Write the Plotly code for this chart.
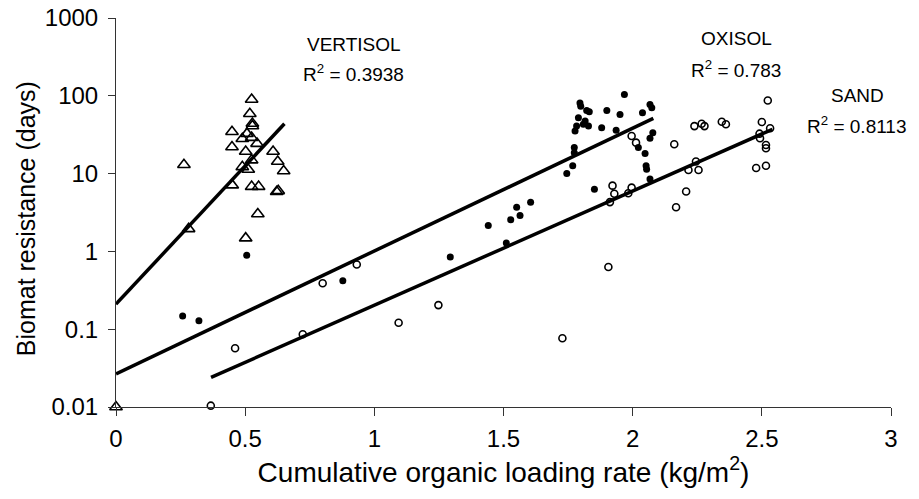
import plotly.graph_objects as go

# ---------------- data ----------------
vert_x = [0.525, 0.518, 0.528, 0.528, 0.449, 0.507, 0.489, 0.525, 0.546, 0.449,
          0.502, 0.608, 0.525, 0.626, 0.263, 0.489, 0.512, 0.649, 0.450, 0.525,
          0.552, 0.622, 0.628, 0.549, 0.502, 0.281, 0.0]
vert_y = [89.7, 58.7, 44, 41, 34.5, 32.6, 28.1, 29.0, 24.3, 22,
          19.2, 19.2, 14.9, 14.3, 13.0, 12.2, 11.3, 10.8, 7.1, 6.8,
          6.8, 5.85, 6.0, 3.03, 1.48, 1.95, 0.01]

oxi_x = [1.968, 1.796, 1.799, 1.832, 1.822, 1.900, 1.951, 2.038, 2.067, 2.074,
         1.790, 1.816, 1.783, 1.809, 1.829, 1.777, 1.880, 1.936, 2.078, 2.067,
         1.774, 1.774, 1.768, 1.745, 2.022, 2.048, 2.052, 2.054, 2.067, 1.852,
         1.441, 1.528, 1.551, 1.564, 1.605, 1.511, 1.294, 0.878, 0.258, 0.321,
         0.506]
oxi_y = [104, 81, 73.6, 62.2, 64.9, 64.9, 57.7, 60.4, 77.4, 70,
         52.1, 47.3, 40.8, 43, 40.8, 35.3, 38.9, 36, 33.6, 28.5,
         21.6, 18.6, 12.6, 10.0, 21.6, 18.1, 12.6, 11.4, 8.5, 6.3,
         2.15, 2.56, 3.69, 2.89, 4.27, 1.28, 0.85, 0.42, 0.148, 0.128,
         0.89]

sand_x = [1.996, 2.013, 1.922, 1.996, 1.929, 1.983, 1.912, 2.168, 1.906,
          2.523, 2.239, 2.267, 2.278, 2.345, 2.361, 2.500, 2.532, 2.491, 2.493,
          2.516, 2.516, 2.161, 2.245, 2.216, 2.255, 2.478, 2.516, 2.207,
          1.248, 1.094, 1.728, 0.800, 0.932, 0.723, 0.461, 0.367]
sand_y = [30.4, 25, 7.0, 6.6, 5.5, 5.6, 4.3, 3.7, 0.63,
          87, 40.8, 43.7, 40.8, 46.4, 43, 46, 38.2, 32.6, 28.5,
          23.3, 21.2, 23.8, 14.3, 11.1, 11.1, 11.8, 12.6, 5.9,
          0.204, 0.121, 0.0765, 0.39, 0.68, 0.086, 0.057, 0.0104]

# exponential trend lines (straight on the log axis): start/end points
trend_names = ["VERTISOL", "OXISOL", "SAND"]
trend_x0 = [0.0, 0.0, 0.368]
trend_x1 = [0.652, 2.08, 2.541]
trend_y0 = [0.21, 0.0267, 0.024]
trend_y1 = [43.7, 51.3, 37.1]
r2_labels = ["0.3938", "0.783", "0.8113"]

x_ticks = [0, 0.5, 1, 1.5, 2, 2.5, 3]
x_ticktext = ["0", "0.5", "1", "1.5", "2", "2.5", "3"]
y_ticks = [0.01, 0.1, 1, 10, 100, 1000]
y_ticktext = ["0.01", "0.1", "1", "10", "100", "1000"]

FONT = "Liberation Sans, Arial, sans-serif"

fig = go.Figure()

for i in range(3):
    fig.add_trace(go.Scatter(
        x=[trend_x0[i], trend_x1[i]], y=[trend_y0[i], trend_y1[i]],
        mode="lines", line=dict(color="black", width=3.5),
        showlegend=False, hoverinfo="skip"))

fig.add_trace(go.Scatter(
    x=vert_x, y=vert_y, mode="markers", name="VERTISOL",
    marker=dict(symbol="triangle-up-open", size=11, color="black",
                line=dict(width=1.6, color="black")),
    cliponaxis=False, showlegend=False))
fig.add_trace(go.Scatter(
    x=oxi_x, y=oxi_y, mode="markers", name="OXISOL",
    marker=dict(symbol="circle", size=7, color="black"),
    cliponaxis=False, showlegend=False))
fig.add_trace(go.Scatter(
    x=sand_x, y=sand_y, mode="markers", name="SAND",
    marker=dict(symbol="circle-open", size=7, color="black",
                line=dict(width=1.6, color="black")),
    cliponaxis=False, showlegend=False))

# text labels (x in data units, y in log10 units)
label_pos = [(0.921, 2.66, 2.29), (2.40, 2.74, 2.34), (2.87, 2.0, 1.62)]
for i, (lx, ly1, ly2) in enumerate(label_pos):
    fig.add_annotation(x=lx, y=ly1, xref="x", yref="y", text=trend_names[i],
                       showarrow=False, font=dict(size=19, color="black", family=FONT))
    fig.add_annotation(x=lx, y=ly2, xref="x", yref="y",
                       text="R<sup>2</sup> = " + r2_labels[i],
                       showarrow=False, font=dict(size=19, color="black", family=FONT))

# y-axis title placed as a rotated annotation
fig.add_annotation(x=-0.116, y=0.483, xref="paper", yref="paper",
                   text="Biomat resistance (days)", textangle=-90,
                   showarrow=False, xanchor="center", yanchor="middle",
                   font=dict(size=25, color="black", family=FONT))

# the page body adds an 8px offset, so margins are reduced by 8 on left/top
fig.update_layout(
    width=919, height=499,
    margin=dict(l=108, r=36, t=10, b=100),
    paper_bgcolor="white", plot_bgcolor="white",
    font=dict(family=FONT, color="black"),
)
fig.update_xaxes(
    range=[0, 3], tickvals=x_ticks, ticktext=x_ticktext, automargin=False,
    showgrid=False, zeroline=False, showline=True, linecolor="#333", linewidth=1,
    ticks="outside", ticklen=8, tickcolor="#333", tickfont=dict(size=24),
    ticklabelstandoff=2, ticklabeloverflow="allow",
    title=dict(text="Cumulative organic loading rate (kg/m<sup>2</sup>)",
               font=dict(size=28), standoff=2),
)
fig.update_yaxes(
    type="log", range=[-2, 3], tickvals=y_ticks, ticktext=y_ticktext, automargin=False,
    showgrid=False, zeroline=False, showline=True, linecolor="#333", linewidth=1,
    ticks="outside", ticklen=7, tickcolor="#333", tickfont=dict(size=24),
    ticklabelstandoff=5, ticklabeloverflow="allow",
)

fig.write_html("out.html")
